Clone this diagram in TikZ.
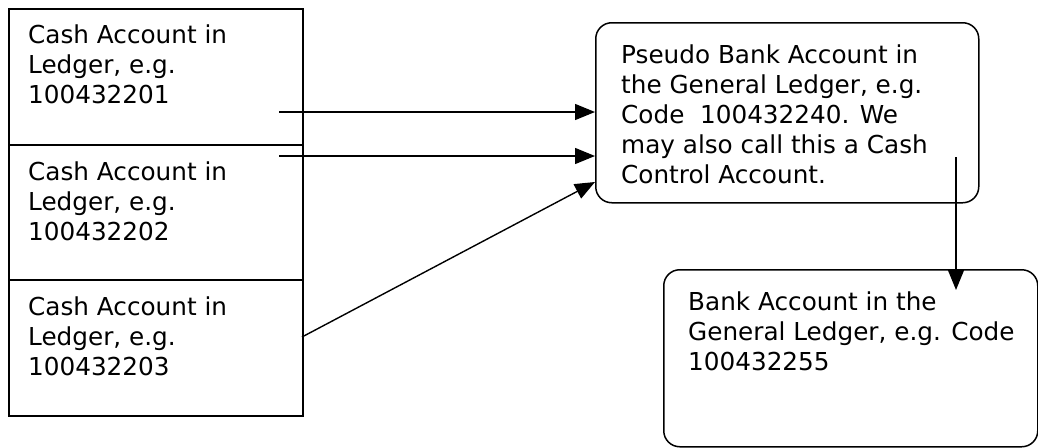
\documentclass[tikz,border=0pt]{standalone}
\usepackage{fontspec}
\setmainfont{DejaVu Sans}
\usetikzlibrary{arrows.meta}
\begin{document}
\begin{tikzpicture}[x=1pt,y=-1pt,
  box/.style={draw, line width=1.5pt, inner sep=0pt, anchor=north west},
  rbox/.style={box, rounded corners=16pt},
  txt/.style={anchor=north west, inner sep=0pt, align=left, font=\fontsize{24.7}{30}\selectfont},
  conn/.style={line width=1.4pt, -{Triangle[length=20pt,width=16pt]}}]
\useasboundingbox (0,0) rectangle (1038,447);
% left boxes
\node[box, minimum width=294pt, minimum height=136pt] (c1) at (8,8) {};
\node[box, minimum width=294pt, minimum height=135pt] (c2) at (8,144) {};
\node[box, minimum width=294pt, minimum height=136pt] (c3) at (8,279) {};
\node[txt] (t1) at (28,24.2) {Cash Account in\\Ledger, e.g.\\100432201};
\node[txt] (t2) at (28,161.2) {Cash Account in\\Ledger, e.g.\\100432202};
\node[txt] (t3) at (28,296.2) {Cash Account in\\Ledger, e.g.\\100432203};
% pseudo bank account
\node[rbox, minimum width=383pt, minimum height=180pt] (p) at (595,22) {};
\node[txt] (tp) at (621,44.2) {Pseudo Bank Account in\\the General Ledger, e.g.\\Code\ \ 100432240. We\\may also call this a Cash\\Control Account.};
% bank account
\node[rbox, minimum width=374pt, minimum height=177pt] (b) at (663,269) {};
\node[txt] (tb) at (688,291.2) {Bank Account in the\\General Ledger, e.g. Code\\100432255};
% connector endpoints
\coordinate (s1) at (279,112);
\coordinate (s2) at (279,156);
\coordinate (s3) at (302,337);
\coordinate (e3) at (595,182);
\coordinate (s4) at (956,157);
\coordinate (e4) at (956,290);
\draw[conn] (s1) -- (s1 -| p.west);
\draw[conn] (s2) -- (s2 -| p.west);
\draw[conn] (s3) -- (e3);
\draw[conn] (s4) -- (e4);
\end{tikzpicture}
\end{document}
